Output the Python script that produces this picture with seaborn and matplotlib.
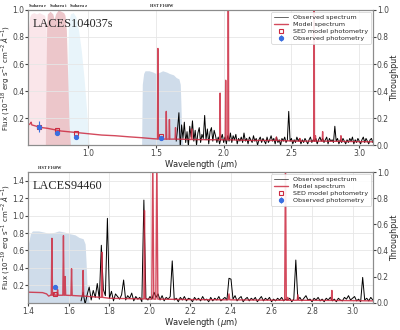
"""Two-panel spectra with filter throughputs: LACES104037s and LACES94460"""

import numpy as np, pandas as pd
import matplotlib
matplotlib.use("Agg")
import matplotlib.pyplot as plt
import seaborn as sns

sns.set_style("whitegrid")
plt.rcParams.update({
    "axes.edgecolor": "#8c8c8c", "axes.linewidth": 0.8,
    "grid.color": "#e6e6e6", "grid.linewidth": 0.6,
    "xtick.bottom": True, "ytick.left": True, "ytick.right": True,
    "xtick.major.size": 2, "ytick.major.size": 2,
    "xtick.color": "#444444", "ytick.color": "#444444",
    "xtick.labelsize": 5.5, "ytick.labelsize": 5.5,
})

# ---- Filter throughputs ----
sub_r_wl  = [0.54, 0.55, 0.56, 0.57, 0.58, 0.60, 0.62, 0.64, 0.66, 0.68, 0.69, 0.70, 0.71, 0.72]
sub_r_thr = [0.00, 0.30, 0.85, 0.95, 0.97, 0.98, 0.97, 0.98, 0.97, 0.96, 0.90, 0.50, 0.10, 0.00]
sub_i_wl  = [0.685, 0.69, 0.695, 0.70, 0.72, 0.74, 0.75, 0.76, 0.78, 0.80, 0.82, 0.83, 0.84, 0.85, 0.86, 0.87]
sub_i_thr = [0.00, 0.50, 0.90, 0.97, 0.99, 0.97, 0.93, 0.97, 1.00, 0.99, 0.98, 0.96, 0.85, 0.50, 0.15, 0.00]
sub_z_wl  = [0.84, 0.85, 0.855, 0.87, 0.89, 0.91, 0.93, 0.95, 0.97, 0.99, 1.00, 1.01]
sub_z_thr = [0.00, 0.50, 0.90, 0.97, 0.98, 0.95, 0.85, 0.70, 0.50, 0.25, 0.10, 0.00]
f160_wl   = [1.395, 1.40, 1.41, 1.42, 1.45, 1.48, 1.50, 1.53, 1.55, 1.58, 1.60, 1.63, 1.65, 1.67, 1.68, 1.685, 1.69, 1.70]
f160_thr  = [0.00, 0.45, 0.53, 0.55, 0.55, 0.54, 0.53, 0.54, 0.55, 0.54, 0.53, 0.52, 0.50, 0.49, 0.45, 0.30, 0.10, 0.00]
# where each filter name sits above the axes (um)
top_label_x = {"Subaru r": 0.63, "Subaru i": 0.78, "Subaru z": 0.93, "HST F160W": 1.54}
bot_label_x = {"HST F160W": 1.505}

# ---- LACES104037s ----
a_model_wl = [0.56, 0.575, 0.58, 0.585, 0.62, 0.66, 0.70, 0.75, 0.80, 0.85, 0.90, 0.95, 1.00, 1.10, 1.20,
              1.30, 1.40, 1.48, 1.512, 1.515, 1.518, 1.574, 1.577, 1.580, 1.597, 1.600, 1.603, 1.642, 1.645,
              1.648, 1.761, 1.764, 1.767, 1.971, 1.974, 1.977, 2.012, 2.015, 2.018, 2.031, 2.034, 2.037, 2.20,
              2.386, 2.389, 2.392, 2.559, 2.562, 2.565, 2.664, 2.667, 2.670, 2.674, 2.677, 2.680, 2.727, 2.730,
              2.733, 2.862, 2.865, 2.868, 3.10]
a_model_fl = [0.15, 0.16, 0.17, 0.15, 0.14, 0.13, 0.125, 0.115, 0.105, 0.10, 0.095, 0.09, 0.085, 0.075, 0.07,
              0.062, 0.055, 0.048, 0.046, 0.715, 0.046, 0.045, 0.25, 0.045, 0.045, 0.19, 0.045, 0.045, 0.13,
              0.045, 0.042, 0.12, 0.042, 0.04, 0.385, 0.04, 0.04, 0.48, 0.04, 0.04, 1.7, 0.04, 0.035,
              0.035, 0.06, 0.035, 0.03, 0.05, 0.03, 0.03, 1.7, 0.03, 0.03, 0.07, 0.03, 0.03, 0.10,
              0.03, 0.028, 0.07, 0.028, 0.025]
a_obs_start = 1.65   # observed spectrum, 0.01 um sampling
a_obs_fl = [0.03, 0.12, 0.24, -0.02, 0.15, 0.05, 0.17, 0.02, 0.10, -0.01, 0.14, 0.06, 0.18, 0.03, 0.11, 0.00,
            0.09, 0.13, 0.02, 0.08, 0.05, 0.22, 0.04, 0.12, 0.01, 0.10, 0.13, 0.03, 0.11, 0.07, 0.02, 0.06,
            0.01, 0.05, 0.08, 0.02, 0.06, 0.01, 0.07, 0.03, 0.09, 0.02, 0.07, 0.04, 0.08, 0.01, 0.05, 0.03,
            0.06, 0.02, 0.09, 0.03, 0.05, 0.01, 0.06, 0.04, 0.02, 0.07, 0.03, 0.05, 0.00, 0.04, 0.06, 0.02,
            0.05, 0.03, 0.01, 0.06, 0.02, 0.04, 0.07, 0.03, 0.05, 0.01, 0.06, 0.02, 0.04, 0.00, 0.05, 0.03,
            0.06, 0.02, 0.04, 0.25, 0.03, 0.05, 0.01, 0.04, 0.02, 0.06, 0.03, 0.05, 0.01, 0.04, 0.02, 0.05,
            0.03, 0.01, 0.04, 0.06, 0.02, 0.04, 0.03, 0.05, 0.01, 0.04, 0.06, 0.03, 0.05, 0.02, 0.04, 0.06,
            0.01, 0.05, 0.03, 0.04, 0.02, 0.14, 0.03, 0.05, 0.01, 0.04, 0.02, 0.05, 0.03, 0.01, 0.04, 0.02,
            0.05, 0.03, 0.06, 0.01, 0.04, 0.02, 0.05, 0.03, 0.01, 0.04, 0.06, 0.02, 0.05, 0.03, 0.01, 0.04,
            0.05, 0.02]
a_phot_wl   = [0.635, 0.774, 0.91, 1.535]
a_phot_obs  = [0.136, 0.087, 0.063, 0.050]
a_phot_err  = [0.040, 0.010, 0.008, 0.006]
a_phot_mod  = [0.136, 0.110, 0.087, 0.068]

# ---- LACES94460 ----
b_model_wl = [1.40, 1.47, 1.49, 1.50, 1.51, 1.513, 1.516, 1.519, 1.525, 1.528, 1.531, 1.541, 1.544, 1.547,
              1.570, 1.573, 1.576, 1.578, 1.581, 1.584, 1.610, 1.613, 1.616, 1.667, 1.670, 1.673, 1.70,
              1.760, 1.763, 1.766, 1.80, 1.970, 1.973, 1.976, 2.009, 2.014, 2.019, 2.029, 2.034, 2.039, 2.20,
              2.386, 2.390, 2.394, 2.60, 2.665, 2.669, 2.673, 2.677, 2.680, 2.683, 2.727, 2.730, 2.734,
              2.895, 2.898, 2.901, 3.10]
b_model_fl = [0.12, 0.115, 0.10, 0.075, 0.085, 0.085, 0.74, 0.085, 0.085, 0.11, 0.085, 0.085, 0.15, 0.085,
              0.085, 0.77, 0.085, 0.085, 0.30, 0.085, 0.082, 0.39, 0.082, 0.075, 0.37, 0.075, 0.07,
              0.06, 0.58, 0.06, 0.05, 0.042, 1.06, 0.042, 0.04, 1.7, 0.04, 0.04, 1.7, 0.04, 0.035,
              0.032, 0.10, 0.032, 0.028, 0.027, 1.7, 0.027, 0.027, 0.06, 0.027, 0.027, 0.09, 0.027,
              0.025, 0.14, 0.025, 0.02]
b_obs_start = 1.66
b_obs_fl = [0.02, 0.12, -0.02, 0.09, 0.18, 0.03, 0.14, 0.06, 0.22, 0.04, 0.66, 0.15, 0.08, 0.97, 0.05, 0.13,
            0.02, 0.10, 0.07, 0.04, 0.09, 0.26, 0.03, 0.08, 0.05, 0.11, 0.02, 0.07, 0.04, 0.06, 0.01, 1.18,
            0.05, 0.03, 0.07, 0.04, 0.12, 0.06, 0.10, 0.03, 0.08, 0.02, 0.06, 0.04, 0.07, 0.48, 0.03, 0.05,
            0.01, 0.06, 0.03, 0.07, 0.02, 0.05, 0.04, 0.01, 0.06, 0.03, 0.05, 0.02, 0.07, 0.03, 0.04, 0.01,
            0.06, 0.02, 0.05, 0.03, 0.07, 0.02, 0.04, 0.06, 0.03, 0.28, 0.27, 0.04, 0.08, 0.02, 0.05, 0.07,
            0.01, 0.04, 0.06, 0.02, 0.05, 0.03, 0.06, 0.01, 0.04, 0.07, 0.02, 0.05, 0.03, 0.06, 0.01, 0.04,
            0.02, 0.05, 0.03, 0.06, 0.02, 0.04, 0.03, 0.05, 0.01, 0.04, 0.49, 0.03, 0.06, 0.02, 0.05, 0.08,
            0.03, 0.04, 0.01, 0.05, 0.03, 0.06, 0.02, 0.04, 0.01, 0.05, 0.03, 0.06, 0.02, 0.04, 0.01, 0.05,
            0.03, 0.02, 0.06, 0.04, 0.08, 0.03, 0.05, 0.07, 0.02, 0.04, 0.01, 0.29, 0.03, 0.05, 0.02, 0.06,
            0.03]
b_phot_wl  = [1.530]
b_phot_obs = [0.175]
b_phot_err = [0.01]
b_phot_mod = [0.10]

RED, BLUE = "#cc2a40", "#3b6fe0"


def panel(ax, name, model_wl, model_fl, obs_start, obs_fl, pwl, pobs, perr, pmod,
          filters, label_x, xlim, ylim, yticks, xticks, expo):
    ax2 = ax.twinx()
    for wl, thr, col, lab in filters:
        ax2.fill_between(wl, thr, color=col, lw=0, zorder=1)
        ax2.text(label_x[lab], 1.015, lab, transform=ax2.get_xaxis_transform(), ha="center",
                 va="bottom", fontsize=3.2, fontweight="bold", family="Liberation Serif")
    ax2.set_ylim(0, 1.0)
    ax2.set_yticks(np.arange(0, 1.01, 0.2))
    ax2.set_ylabel("Throughput", fontsize=5.8, labelpad=1)
    ax2.grid(False)
    ax2.tick_params(axis="y", pad=1)
    ax.set_zorder(ax2.get_zorder() + 1)
    ax.patch.set_visible(False)

    obs = pd.DataFrame({"wl": obs_start + 0.01 * np.arange(len(obs_fl)), "flux": obs_fl})
    mod = pd.DataFrame({"wl": model_wl, "flux": model_fl})
    sns.lineplot(data=obs, x="wl", y="flux", ax=ax, color="black", lw=0.7,
                 estimator=None, sort=False, label="Observed spectrum")
    sns.lineplot(data=mod, x="wl", y="flux", ax=ax, color=RED, lw=1.0, alpha=0.85,
                 estimator=None, sort=False, label="Model spectrum")
    ax.plot(pwl, pmod, "s", ms=3.2, mfc="none", mec=RED, mew=0.8, label="SED model photometry")
    ax.errorbar(pwl, pobs, yerr=perr, fmt="o", ms=2.8, color=BLUE, elinewidth=0.8, capsize=0,
                label="Observed photometry", zorder=5)

    ax.set_xlim(*xlim)
    ax.set_ylim(*ylim)
    ax.set_xticks(xticks)
    ax.set_yticks(yticks)
    ax.set_xlabel(r"Wavelength ($\mu$m)", fontsize=6, labelpad=0)
    ax.set_ylabel(r"Flux (10$^{%d}$ erg s$^{-1}$ cm$^{-2}$ $\AA^{-1}$)" % expo, fontsize=5, labelpad=1)
    ax.tick_params(pad=1)
    ax.text(0.012, 0.94, name, transform=ax.transAxes, fontsize=8.8, family="Liberation Serif",
            va="top", ha="left")

    h, l = ax.get_legend_handles_labels()
    leg = ax.legend(h, l, loc="upper right", fontsize=4.6, frameon=True, framealpha=0.9,
                    borderpad=0.4, labelspacing=0.25, handlelength=2.2, handletextpad=0.8,
                    borderaxespad=0.3)
    leg.get_frame().set_linewidth(0.5)
    leg.get_frame().set_edgecolor("#cccccc")
    leg.get_lines()[0].set_alpha(0.6)


fig = plt.figure(figsize=(4.0, 3.3), dpi=100)
ax_top = fig.add_axes([0.071, 0.560, 0.861, 0.410])
ax_bot = fig.add_axes([0.071, 0.083, 0.861, 0.395])

top_filters = [
    (sub_r_wl, sub_r_thr, "#fae6ea", "Subaru r"),
    (sub_z_wl, sub_z_thr, "#e8f4fa", "Subaru z"),
    (sub_i_wl, sub_i_thr, "#ecc6ca", "Subaru i"),
    (f160_wl, f160_thr, "#cfdcea", "HST F160W"),
]
bot_filters = [(f160_wl, f160_thr, "#cfdcea", "HST F160W")]

panel(ax_top, "LACES104037s", a_model_wl, a_model_fl, a_obs_start, a_obs_fl,
      a_phot_wl, a_phot_obs, a_phot_err, a_phot_mod, top_filters, top_label_x,
      (0.56, 3.1), (0, 1.0), np.arange(0.2, 1.01, 0.2), [1.0, 1.5, 2.0, 2.5, 3.0], -18)
panel(ax_bot, "LACES94460", b_model_wl, b_model_fl, b_obs_start, b_obs_fl,
      b_phot_wl, b_phot_obs, b_phot_err, b_phot_mod, bot_filters, bot_label_x,
      (1.4, 3.1), (0, 1.5), np.arange(0.2, 1.41, 0.2), np.arange(1.4, 3.01, 0.2), -19)
ax_bot.set_xticklabels([f"{v:.1f}" for v in np.arange(1.4, 3.01, 0.2)])

fig.savefig("out.png", dpi=100)
